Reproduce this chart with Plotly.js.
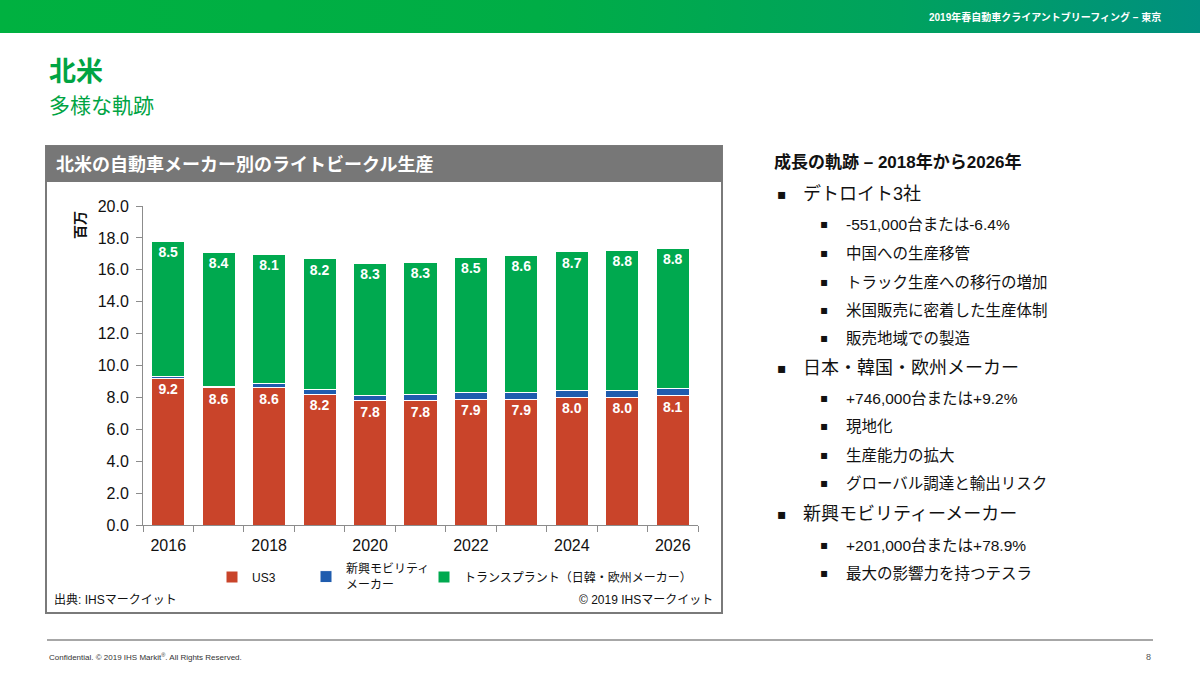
<!DOCTYPE html>
<html><head><meta charset="utf-8">
<script src="https://cdn.plot.ly/plotly-3.0.1.min.js"></script>
<style>
html,body{margin:0;padding:0;background:#fff;}
#band{position:absolute;left:0;top:0;width:1200px;height:33px;background:linear-gradient(90deg,#00b140 0%,#00ad46 45%,#00a25e 75%,#00907f 100%);}
#plot{position:absolute;left:0;top:0;width:1200px;height:675px;}
</style></head>
<body>
<div id="band"></div>
<div id="plot"></div>
<script>
// ---- data (millions of units) ----
const years = [2016, 2017, 2018, 2019, 2020, 2021, 2022, 2023, 2024, 2025, 2026];
const us3 = [9.2, 8.6, 8.6, 8.2, 7.8, 7.8, 7.9, 7.9, 8.0, 8.0, 8.1];
const newMobility = [0.08, 0.1, 0.26, 0.3, 0.32, 0.38, 0.38, 0.4, 0.42, 0.42, 0.46];
const transplants = [8.5, 8.4, 8.1, 8.2, 8.3, 8.3, 8.5, 8.6, 8.7, 8.8, 8.8];
const seriesNames = ["US3", "新興モビリティ<br>メーカー", "トランスプラント（日韓・欧州メーカー）"];
const xTickYears = [2016, 2018, 2020, 2022, 2024, 2026];
const yTicks = [0, 2, 4, 6, 8, 10, 12, 14, 16, 18, 20];

const FONT = "'Liberation Sans', Arial, 'Noto Sans CJK JP', sans-serif";
const JP = "'Liberation Sans', 'Noto Sans CJK JP', sans-serif";

// plot area in page pixels
const X0 = 143, X1 = 698, Y0 = 525, Y1 = 206;
const px = x => (x - X0) / (X1 - X0);
const py = y => (Y0 - y) / (Y0 - Y1);

const barLine = {color: '#ffffff', width: 1};
const labelFont = {color: '#ffffff', size: 14, family: FONT, weight: 'bold'};
const traces = [
  {type: 'bar', name: seriesNames[0], x: years, y: us3, legend: 'legend',
   marker: {color: '#c9442a', line: barLine},
   texttemplate: '%{y:.1f}', textposition: 'inside', insidetextanchor: 'end',
   textfont: labelFont, hoverinfo: 'skip'},
  {type: 'bar', name: seriesNames[1], x: years, y: newMobility, legend: 'legend2',
   marker: {color: '#1f5cae', line: barLine}, hoverinfo: 'skip'},
  {type: 'bar', name: seriesNames[2], x: years, y: transplants, legend: 'legend3',
   marker: {color: '#00a94f', line: barLine},
   texttemplate: '%{y:.1f}', textposition: 'inside', insidetextanchor: 'end',
   textfont: labelFont, hoverinfo: 'skip'}
];

const shapes = [
  // chart panel
  {type: 'rect', xref: 'paper', yref: 'paper', x0: px(46), x1: px(722), y0: py(613), y1: py(146),
   line: {color: '#7a7a7a', width: 2}, fillcolor: 'rgba(0,0,0,0)', layer: 'below'},
  {type: 'rect', xref: 'paper', yref: 'paper', x0: px(46), x1: px(722), y0: py(182), y1: py(146),
   line: {width: 0}, fillcolor: '#777777', layer: 'below'},
  // footer rule
  {type: 'line', xref: 'paper', yref: 'paper', x0: px(47), x1: px(1153), y0: py(640), y1: py(640),
   line: {color: '#8a8a8a', width: 1.5}}
];

const ann = [];
function txt(text, x, y, size, opts) {
  ann.push(Object.assign({text: text, xref: 'paper', yref: 'paper', x: px(x), y: py(y),
    xanchor: 'left', yanchor: 'middle', showarrow: false,
    font: {family: JP, size: size, color: '#111111'}}, opts || {}));
}
// header band text
txt('2019年春自動車クライアントブリーフィング – 東京', 1163, 17, 10,
  {xanchor: 'right', font: {family: JP, size: 10, color: '#ffffff', weight: 'bold'}});
// slide title
txt('北米', 47, 72, 27, {font: {family: JP, size: 27, color: '#00a443', weight: 'bold'}});
txt('多様な軌跡', 47, 105, 21, {font: {family: JP, size: 21, color: '#00a443'}});
// panel title
txt('北米の自動車メーカー別のライトビークル生産', 54, 164, 18,
  {font: {family: JP, size: 18, color: '#ffffff', weight: 'bold'}});
// y unit
txt('百万', 80, 225, 14, {xanchor: 'center', textangle: -90,
  font: {family: JP, size: 14, color: '#111111', weight: 'bold'}});
// panel footnotes
txt('出典: IHSマークイット', 52, 600, 12);
txt('© 2019 IHSマークイット', 715, 600, 12, {xanchor: 'right'});

// right text block
txt('成長の軌跡 – 2018年から2026年', 772, 162, 17, {font: {family: JP, size: 17, color: '#111111', weight: 'bold'}});
const bulletLines = [
  [1, 'デトロイト3社', 194],
  [2, '-551,000台または-6.4%', 224],
  [2, '中国への生産移管', 253],
  [2, 'トラック生産への移行の増加', 282],
  [2, '米国販売に密着した生産体制', 310],
  [2, '販売地域での製造', 338],
  [1, '日本・韓国・欧州メーカー', 368],
  [2, '+746,000台または+9.2%', 398],
  [2, '現地化', 426],
  [2, '生産能力の拡大', 455],
  [2, 'グローバル調達と輸出リスク', 483],
  [1, '新興モビリティーメーカー', 514],
  [2, '+201,000台または+78.9%', 545],
  [2, '最大の影響力を持つテスラ', 573]
];
bulletLines.forEach(b => {
  if (b[0] === 1) {
    txt('▪', 775, b[2], 14, {font: {family: "'DejaVu Sans', sans-serif", size: 14, color: '#111111'}});
    txt(b[1], 801, b[2], 18);
  } else {
    txt('▪', 818, b[2], 12, {font: {family: "'DejaVu Sans', sans-serif", size: 12, color: '#111111'}});
    txt(b[1], 844, b[2], 15.5);
  }
});
// page footer
txt('Confidential. © 2019 IHS Markit<sup>®</sup>. All Rights Reserved.', 47, 657, 8,
  {font: {family: FONT, size: 8, color: '#333333'}});
txt('8', 1153, 657, 9, {xanchor: 'right', font: {family: FONT, size: 9, color: '#555555'}});

const legendBase = {orientation: 'h', xanchor: 'left', yanchor: 'middle', y: py(577),
  font: {size: 12, family: JP, color: '#111111'}, itemwidth: 30, bgcolor: 'rgba(0,0,0,0)'};

const layout = {
  width: 1200, height: 675,
  margin: {l: X0, r: 1200 - X1, t: Y1, b: 675 - Y0, pad: 0},
  paper_bgcolor: 'rgba(0,0,0,0)', plot_bgcolor: 'rgba(0,0,0,0)',
  barmode: 'stack', bargap: 0.345,
  font: {family: FONT, color: '#111111'},
  xaxis: {
    type: 'linear', range: [2015.5, 2026.5], tickmode: 'array', tickvals: xTickYears,
    ticks: '', showgrid: false, zeroline: false, showline: true, linecolor: '#8c8c8c', linewidth: 1,
    tickfont: {size: 16, family: FONT, color: '#111111'}, ticklabelstandoff: 6,
    minor: {tickmode: 'linear', tick0: 2015.5, dtick: 1, ticks: 'outside', ticklen: 6,
            tickcolor: '#8c8c8c', showgrid: false}
  },
  yaxis: {
    range: [0, 20], tickmode: 'array', tickvals: yTicks, tickformat: '.1f',
    ticks: 'outside', ticklen: 6, tickcolor: '#8c8c8c', showgrid: false, zeroline: false,
    showline: true, linecolor: '#8c8c8c', linewidth: 1,
    tickfont: {size: 16, family: FONT, color: '#111111'}, ticklabelstandoff: 4
  },
  showlegend: true,
  legend: Object.assign({}, legendBase, {x: px(212)}),
  legend2: Object.assign({}, legendBase, {x: px(306)}),
  legend3: Object.assign({}, legendBase, {x: px(424)}),
  shapes: shapes,
  annotations: ann
};

Plotly.newPlot('plot', traces, layout, {staticPlot: true, displayModeBar: false});
</script>
</body></html>
